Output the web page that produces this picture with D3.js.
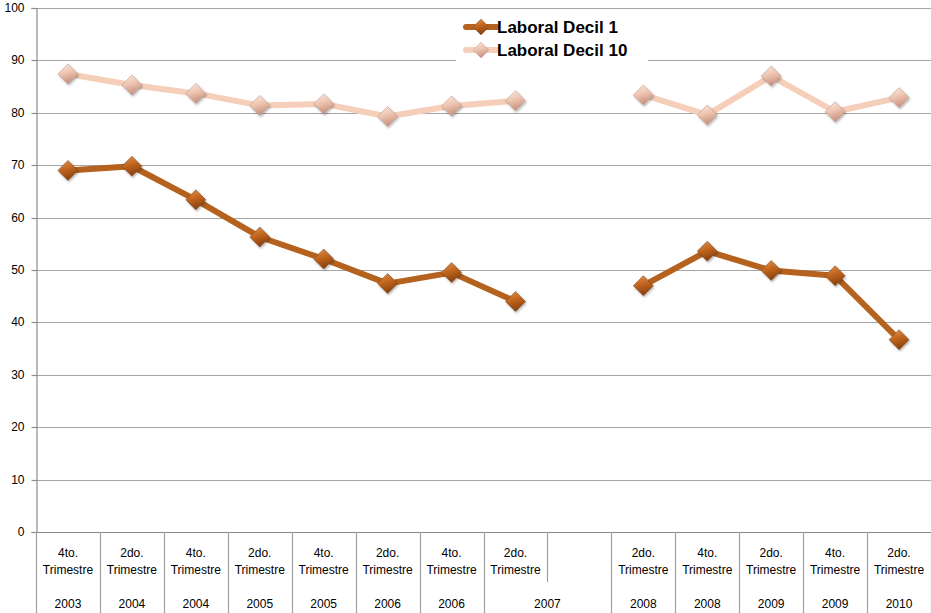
<!DOCTYPE html>
<html>
<head>
<meta charset="utf-8">
<script src="https://cdn.jsdelivr.net/npm/d3@7"></script>
<style>
  html, body { margin: 0; padding: 0; background: #fff; }
  svg { display: block; }
  text { font-family: "Liberation Sans", "DejaVu Sans", sans-serif; fill: #000; }
</style>
</head>
<body>
<div id="chart"></div>
<script>
// Quarter labels (first axis row) and year labels (second row); an empty year merges into the previous group
const quarters = ["4to. Trimestre", "2do. Trimestre", "4to. Trimestre", "2do. Trimestre", "4to. Trimestre",
                  "2do. Trimestre", "4to. Trimestre", "2do. Trimestre", "", "2do. Trimestre",
                  "4to. Trimestre", "2do. Trimestre", "4to. Trimestre", "2do. Trimestre"];
const years = ["2003", "2004", "2004", "2005", "2005", "2006", "2006", "2007", "", "2008",
               "2008", "2009", "2009", "2010"];

const decil1  = [69.0, 69.8, 63.4, 56.3, 52.1, 47.4, 49.5, 44.0, null, 47.0, 53.6, 49.9, 48.9, 36.7];
const decil10 = [87.4, 85.3, 83.7, 81.4, 81.7, 79.3, 81.3, 82.3, null, 83.4, 79.6, 87.0, 80.2, 82.9];

const seriesNames = ["Laboral Decil 1", "Laboral Decil 10"];
const yTicks = [0, 10, 20, 30, 40, 50, 60, 70, 80, 90, 100];

const W = 931, H = 613;
const plotLeft = 36, plotRight = 931, plotTop = 8, plotBottom = 532;

const svg = d3.select("#chart").append("svg").attr("width", W).attr("height", H);
const defs = svg.append("defs");

const x = d3.scaleBand().domain(d3.range(quarters.length)).range([plotLeft, plotRight]).paddingInner(0).paddingOuter(0);
const y = d3.scaleLinear().domain([0, 100]).range([plotBottom, plotTop]);

// Horizontal gridlines
svg.append("g").selectAll("line").data(yTicks.filter(t => t > 0)).join("line")
  .attr("x1", plotLeft).attr("x2", plotRight)
  .attr("y1", d => Math.round(y(d)) + 0.5).attr("y2", d => Math.round(y(d)) + 0.5)
  .attr("stroke", "#a6a6a6").attr("stroke-width", 1.2);

// Value axis
const yAxis = d3.axisLeft(y).tickValues(yTicks).tickSize(5).tickPadding(7);
const gy = svg.append("g").attr("transform", `translate(${plotLeft + 0.5},0)`).call(yAxis);
gy.select(".domain").attr("stroke", "#8c8c8c").attr("stroke-width", 1.2);
gy.selectAll(".tick line").attr("stroke", "#8c8c8c").attr("stroke-width", 1.2);
gy.selectAll(".tick text").style("font-size", "12px").attr("fill", "#000");
gy.selectAll(".tick").attr("transform", d => `translate(0,${Math.round(y(d)) + 0.5})`);

// Category axis line
svg.append("line").attr("x1", plotLeft).attr("x2", plotRight)
  .attr("y1", plotBottom + 0.5).attr("y2", plotBottom + 0.5)
  .attr("stroke", "#8c8c8c").attr("stroke-width", 1.2);

// Group years: an empty cell extends the previous group
const groups = [];
years.forEach((yr, i) => {
  if (yr === "" && groups.length) groups[groups.length - 1].end = i;
  else groups.push({ label: yr, start: i, end: i });
});
const groupStarts = new Set(groups.map(g => g.start));

// Separators between categories
const row1Bottom = 582;
const seps = d3.range(quarters.length + 1);
svg.append("g").selectAll("line").data(seps).join("line")
  .attr("x1", i => Math.round(i < quarters.length ? x(i) : plotRight) + 0.5)
  .attr("x2", i => Math.round(i < quarters.length ? x(i) : plotRight) + 0.5)
  .attr("y1", plotBottom)
  .attr("y2", i => (i === 0 || i === quarters.length || groupStarts.has(i)) ? H : row1Bottom)
  .attr("stroke", "#a0a0a0").attr("stroke-width", 1.2);

// Quarter labels (two lines each)
const qg = svg.append("g");
quarters.forEach((q, i) => {
  if (!q) return;
  const parts = q.split(" ");
  const cx = x(i) + x.bandwidth() / 2;
  const t = qg.append("text").attr("text-anchor", "middle").style("font-size", "12px").attr("x", cx);
  parts.forEach((p, k) => t.append("tspan").attr("x", cx).attr("y", 557 + k * 17).text(p));
});

// Year labels
svg.append("g").selectAll("text").data(groups).join("text")
  .attr("text-anchor", "middle").style("font-size", "12px")
  .attr("x", g => (x(g.start) + x(g.end) + x.bandwidth()) / 2)
  .attr("y", 608)
  .text(g => g.label);

// Marker gradients
const styles = [
  { line: "#b5621f", light: "#e0934f", mid: "#c2661f", dark: "#8c420c", edge: "#7a4a2a" },
  { line: "#f6cfbb", light: "#fbe9e0", mid: "#efc6b2", dark: "#c99480", edge: "#b89686" }
];
styles.forEach((s, k) => {
  const g = defs.append("linearGradient").attr("id", "mk" + k)
    .attr("x1", "0").attr("y1", "0").attr("x2", "0.3").attr("y2", "1");
  g.append("stop").attr("offset", "0%").attr("stop-color", s.light);
  g.append("stop").attr("offset", "50%").attr("stop-color", s.mid);
  g.append("stop").attr("offset", "100%").attr("stop-color", s.dark);
});
const shadow = defs.append("filter").attr("id", "shd").attr("x", "-50%").attr("y", "-50%").attr("width", "200%").attr("height", "200%");
shadow.append("feDropShadow").attr("dx", 1).attr("dy", 1.5).attr("stdDeviation", 1).attr("flood-color", "#000").attr("flood-opacity", 0.3);

const diamond = r => `M0,${-r}L${r},0L0,${r}L${-r},0Z`;

const line = d3.line()
  .defined(d => d != null)
  .x((d, i) => x(i) + x.bandwidth() / 2)
  .y(d => y(d));

const allSeries = [decil1, decil10];

// Lines first (lighter series beneath)
[1, 0].forEach(k => {
  svg.append("path").datum(allSeries[k])
    .attr("d", line).attr("fill", "none")
    .attr("stroke", styles[k].line).attr("stroke-width", 6)
    .attr("stroke-linejoin", "round").attr("stroke-linecap", "butt");
});

// Markers
[1, 0].forEach(k => {
  svg.append("g").selectAll("path")
    .data(allSeries[k].map((v, i) => ({ v, i })).filter(d => d.v != null))
    .join("path")
    .attr("transform", d => `translate(${x(d.i) + x.bandwidth() / 2},${y(d.v)})`)
    .attr("d", diamond(10))
    .attr("fill", `url(#mk${k})`)
    .attr("stroke", styles[k].edge).attr("stroke-width", 0.8).attr("stroke-opacity", 0.7)
    .attr("filter", "url(#shd)");
});

// Legend
const lg = svg.append("g");
lg.append("rect").attr("x", 456).attr("y", 14).attr("width", 192).attr("height", 50).attr("fill", "#fff");
seriesNames.forEach((name, k) => {
  const cy = 27 + k * 23;
  lg.append("line").attr("x1", 466).attr("x2", 497).attr("y1", cy).attr("y2", cy)
    .attr("stroke", styles[k].line).attr("stroke-width", 6).attr("stroke-linecap", "round");
  lg.append("path").attr("transform", `translate(481,${cy})`).attr("d", diamond(8))
    .attr("fill", `url(#mk${k})`).attr("stroke", styles[k].edge).attr("stroke-width", 0.6).attr("stroke-opacity", 0.7);
  lg.append("text").attr("x", 497).attr("y", cy + 6)
    .style("font-size", "17px").style("font-weight", "bold").text(name);
});
</script>
</body>
</html>
